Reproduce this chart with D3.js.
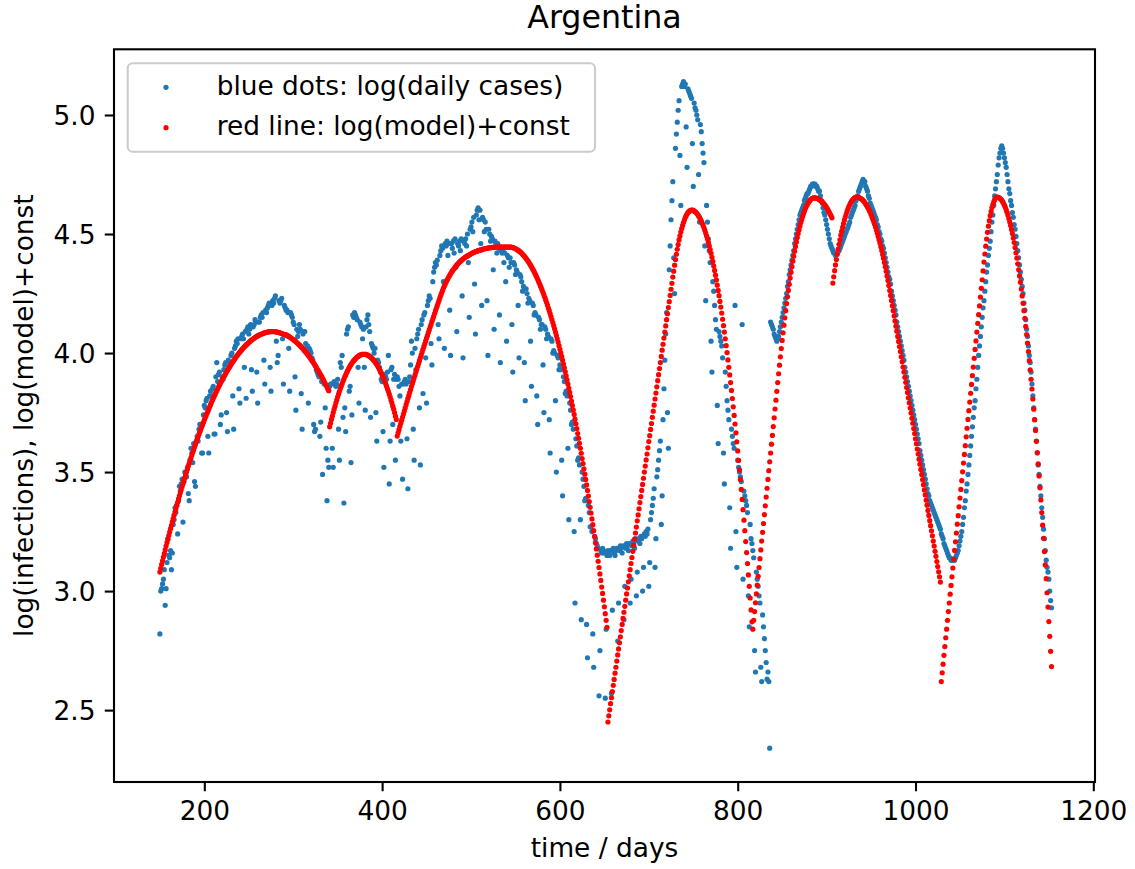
<!DOCTYPE html>
<html lang="en">
<head>
<meta charset="UTF-8">
<title>Argentina</title>
<script src="https://cdn.jsdelivr.net/npm/d3@7"></script>
<style>
  body { margin: 0; background: #fff; }
  svg { display: block; font-family: "DejaVu Sans", sans-serif; }
</style>
</head>
<body>
<svg id="chart" width="1135" height="869"></svg>
<script>
// one value per day, starting at firstDay
var firstDay = 150;

// blue dots: log(daily cases)
var logCases = [
  2.82,3.00,3.01,3.03,3.05,3.09,2.94,3.01,3.12,3.22, // 150
  3.15,3.14,3.17,3.09,3.16,3.28,3.30,3.35,3.33,3.36,
  3.24,3.38,3.44,3.42,3.45,3.47,3.29,3.46,3.50,3.49,
  3.48,3.52,3.41,3.38,3.55,3.60,3.58,3.54,3.62,3.46,
  3.44,3.63,3.65,3.63,3.68,3.70,3.70,3.58,3.58,3.74,
  3.78,3.77,3.80,3.81,3.65,3.58,3.82,3.84,3.82,3.85, // 200
  3.86,3.66,3.66,3.90,3.96,3.88,3.91,3.92,3.70,3.74,
  3.90,3.89,3.93,3.95,3.96,3.75,3.67,3.97,3.94,3.96,
  3.99,4.00,3.82,3.68,4.02,4.03,4.05,4.04,4.06,3.85,
  3.79,4.06,4.07,4.08,4.06,3.94,4.09,3.81,4.10,4.11,
  4.08,4.10,4.12,3.93,3.84,4.11,4.12,4.14,4.13,3.92, // 250
  3.79,4.13,4.13,4.15,4.16,4.15,4.17,3.97,3.87,4.18,
  4.17,4.19,4.20,4.21,3.94,3.84,4.20,4.22,4.21,4.23,
  4.24,4.05,3.96,3.99,4.22,4.21,4.22,4.23,4.06,3.87,
  4.20,4.19,4.18,4.18,4.17,4.02,3.84,4.17,4.16,4.15,
  4.13,4.12,3.90,3.76,4.10,4.07,4.09,4.12,4.10,3.83, // 300
  3.68,4.08,4.09,4.09,4.04,4.02,4.03,3.79,4.02,4.01,
  4.00,3.98,3.97,3.70,3.67,3.68,3.93,3.92,3.91,3.90,
  3.65,3.71,3.88,3.49,3.88,3.87,3.77,3.60,3.38,3.55,
  3.52,3.86,3.87,3.87,3.60,3.52,3.88,3.87,3.86,3.87,
  3.89,3.68,3.55,3.96,3.94,3.99,3.73,3.37,3.77,3.67, // 350
  4.08,4.10,4.11,3.84,3.86,3.54,3.74,4.16,4.15,4.17,
  4.16,4.15,4.14,3.94,3.79,4.13,4.12,4.11,4.06,4.10,
  3.94,3.76,4.11,4.14,4.16,4.12,4.09,3.73,4.04,4.03,
  4.02,4.00,4.02,3.75,3.63,3.97,3.96,3.94,3.92,3.89,
  3.88,3.67,3.52,3.91,3.90,3.89,3.92,3.99,3.45,3.63, // 400
  3.93,3.94,3.70,3.89,3.91,3.55,3.89,3.90,3.89,3.86,
  3.82,3.63,3.87,3.47,3.87,3.88,3.89,3.87,3.64,3.43,
  3.88,3.90,3.95,4.05,4.00,3.68,3.55,4.02,3.93,4.06,
  4.08,4.10,3.77,3.53,4.12,4.14,3.83,4.16,4.17,3.98,
  3.79,4.20,4.22,4.24,4.23,4.04,3.95,4.30,4.34,4.36, // 450
  4.38,4.37,4.39,4.12,4.06,4.41,
  4.43,4.45,4.44,4.30,4.02,4.46,4.45,4.47,4.41,4.46, // 466
  4.18,3.99,4.46,4.44,4.47,4.42,4.48,4.36,4.09,4.46,
  4.45,4.47,4.43,4.48,4.24,3.98,4.47,4.46,4.48,4.45,
  4.50,4.38,4.15,4.52,4.53,4.55,4.51,4.57,4.29,4.08,
  4.58,4.60,4.61,4.56,4.60,4.46,4.20,4.57,4.56,4.51, // 506
  4.55,4.52,4.22,3.99,4.52,4.50,4.47,4.49,4.48,4.35,
  4.10,4.47,4.46,4.42,4.46,4.44,4.16,3.96,4.43,4.42,
  4.43,4.38,4.42,4.30,4.05,4.41,4.40,4.36,4.40,4.38,
  4.12,3.92,4.38,4.37,4.33,4.35,4.34,4.20,3.98,4.33,
  4.32,4.30,4.26,4.28,3.96,3.80,4.27,4.25,4.21,4.23, // 556
  4.22,4.05,3.86,4.21,4.20,4.16,4.17,4.16,3.82,3.70,
  4.15,4.14,4.10,4.12,4.12,3.95,3.75,4.11,4.10,4.06,
  4.08,4.07,3.72,3.58,4.06,4.05,4.00,4.01,4.00,3.80,
  3.50,3.99,3.98,3.93,3.95,3.93,3.55,3.40,3.90,3.88,
  3.83,3.84,3.82,3.60,3.30,3.79,3.76,3.70,3.71,3.68, // 606
  3.25,2.95,3.64,3.61,3.55,3.56,3.53,3.30,2.88,3.50,
  3.47,3.44,3.38,3.39,2.86,2.72,3.36,3.33,3.27,3.27,
  3.25,2.82,2.68,3.23,3.22,3.20,3.19,3.18,2.56,2.75,
  3.17,3.16,3.18,3.17,3.16,2.55,2.84,3.15,3.17,3.16,
  3.15,3.17,2.57,2.92,3.18,3.16,3.15,3.17,3.18,2.79, // 656
  2.95,3.17,3.19,3.18,3.16,3.19,2.88,3.02,3.18,3.20,
  3.19,3.17,3.20,2.95,3.05,3.19,3.21,3.20,3.18,3.22,
  2.98,3.08,3.21,3.22,3.20,3.23,3.22,3.00,3.10,3.24,
  3.23,3.25,3.24,3.26,3.02,3.12,3.30,3.33,3.36,3.39,
  3.43,3.10,3.22,3.48,3.51,3.55,3.59,3.63,3.28,3.40, // 706
  3.72,3.85,3.97,4.08,4.17,3.75,3.60,4.35,4.45,4.56,
  4.64,4.72,4.40,4.25,4.86,4.92,4.97,5.02,5.06,4.83,
  4.62,5.12,5.13,5.14,5.12,5.13,4.95,4.78,5.11,5.10,
  5.09,5.08,5.07,4.88,4.70,5.05,5.03,5.02,5.00,4.98,
  4.75,4.55,4.96,4.93,4.88,4.84,4.80,4.45,4.22,4.62, // 756
  4.55,4.48,4.43,4.38,4.05,3.92,4.30,4.26,4.20,4.14,
  4.10,3.78,3.62,4.09,4.07,4.05,4.03,3.98,3.58,3.45,
  3.92,3.86,3.80,3.76,3.72,3.35,3.18,3.68,3.65,3.62,
  3.60,4.20,3.25,3.10,3.55,3.52,3.50,3.48,3.46,4.12,
  3.05,3.42,3.40,3.38,3.36,3.33,2.98,2.85,3.28,3.22, // 806
  3.20,3.17,3.14,2.75,2.66,3.08,3.05,3.02,2.98,2.95,
  2.68,2.62,2.90,2.85,2.80,2.75,2.70,2.63,2.66,2.62,
  2.34,4.13,4.12,4.11,4.10,4.08,4.07,4.06,4.05,4.06,
  4.07,4.09,4.11,4.13,4.15,4.17,4.19,4.21,4.23,4.25,
  4.28,4.30,4.33,4.35,4.37,4.39,4.41,4.43,4.46,4.48, // 856
  4.50,4.52,4.54,4.56,4.58,4.59,4.60,4.61,4.62,4.64,
  4.65,4.66,4.67,4.67,4.68,4.69,4.70,4.70,4.71,4.71,
  4.71,4.71,4.70,4.70,4.69,4.68,4.68,4.66,4.64,4.63,
  4.61,4.59,4.58,4.56,4.54,4.52,4.50,4.48,4.46,4.45,
  4.44,4.43,4.42,4.42,4.41,4.42,4.42,4.43,4.43,4.44, // 906
  4.45,4.46,4.47,4.48,4.49,4.50,4.51,4.52,4.53,4.54,
  4.55,4.57,4.58,4.59,4.60,4.61,4.62,4.64,4.65,4.66,
  4.68,4.69,4.70,4.71,4.72,4.73,4.72,4.72,4.70,4.69,
  4.68,4.66,4.65,4.63,4.62,4.61,4.60,4.59,4.58,4.57,
  4.56,4.54,4.53,4.51,4.50,4.48,4.47,4.45,4.44,4.42, // 956
  4.40,4.38,4.36,4.34,4.32,4.31,4.29,4.26,4.24,4.22,
  4.20,4.18,4.16,4.13,4.11,4.09,4.07,4.05,4.03,4.01,
  3.99,3.97,3.94,3.92,3.90,3.88,3.86,3.84,3.82,3.80,
  3.78,3.76,3.74,3.72,3.70,3.68,3.66,3.64,3.62,3.59,
  3.57,3.55,3.53,3.51,3.49,3.47,3.45,3.43,3.41,3.40, // 1006
  3.38,3.37,3.36,3.35,3.34,3.33,3.32,3.31,3.30,3.29,
  3.28,3.27,3.26,3.24,3.23,3.22,3.20,3.19,3.18,3.17,
  3.16,3.15,3.14,3.14,3.13,3.13,3.13,3.13,3.13,3.14,
  3.15,3.16,3.17,3.19,3.21,3.23,3.25,3.28,3.31,3.35,
  3.38,3.42,3.45,3.49,3.53,3.57,3.61,3.65,3.69,3.73, // 1056
  3.77,3.80,3.85,3.89,3.94,3.99,4.03,4.07,4.11,4.15,
  4.19,4.22,4.26,4.30,4.34,4.37,4.41,4.44,4.47,4.51,
  4.55,4.58,4.62,4.66,4.69,4.72,4.75,4.79,4.82,4.84,
  4.86,4.87,4.86,4.84,4.82,4.80,4.78,4.75,4.72,4.69,
  4.67,4.64,4.62,4.59,4.57,4.54,4.52,4.49,4.46,4.43, // 1106
  4.40,4.37,4.34,4.31,4.28,4.25,4.21,4.18,4.14,4.10,
  4.07,4.03,3.99,3.96,3.92,3.87,3.82,3.77,3.72,3.68,
  3.63,3.58,3.53,3.49,3.44,3.40,3.35,3.31,3.26,3.22,
  3.17,3.13,3.10,3.08,3.05,3.00,2.96,2.93
];

// red line: log(model)+const, one value per day
var logModel = [
  3.080,3.096,3.112,3.127,3.143,3.158,3.173,3.189,3.204,3.218, // 150
  3.233,3.248,3.262,3.276,3.291,3.305,3.319,3.333,3.346,3.360,
  3.373,3.387,3.400,3.413,3.426,3.439,3.451,3.464,3.476,3.489,
  3.501,3.513,3.525,3.537,3.549,3.560,3.572,3.583,3.594,3.605,
  3.616,3.627,3.638,3.648,3.659,3.669,3.679,3.689,3.699,3.709,
  3.719,3.728,3.738,3.747,3.756,3.765,3.774,3.783,3.792,3.801, // 200
  3.809,3.817,3.825,3.834,3.842,3.849,3.857,3.865,3.872,3.879,
  3.887,3.894,3.901,3.907,3.914,3.921,3.927,3.933,3.940,3.946,
  3.952,3.958,3.963,3.969,3.974,3.980,3.985,3.990,3.995,4.000,
  4.004,4.009,4.013,4.018,4.022,4.026,4.030,4.034,4.037,4.041,
  4.044,4.048,4.051,4.054,4.057,4.060,4.062,4.065,4.067,4.070, // 250
  4.072,4.074,4.076,4.078,4.079,4.081,4.082,4.084,4.085,4.086,
  4.087,4.088,4.089,4.089,4.090,4.090,4.090,4.090,4.090,4.090,
  4.089,4.089,4.088,4.087,4.086,4.085,4.084,4.082,4.081,4.079,
  4.079,4.078,4.076,4.074,4.072,4.070,4.067,4.065,4.062,4.060,
  4.057,4.054,4.051,4.048,4.044,4.041,4.037,4.034,4.030,4.026, // 300
  4.022,4.018,4.013,4.009,4.004,4.000,3.995,3.990,3.985,3.980,
  3.974,3.969,3.963,3.958,3.952,3.946,3.940,3.933,3.927,3.921,
  3.914,3.907,3.901,3.894,3.887,3.879,3.872,3.865,3.857,3.849,
  3.842,3.690,3.705,3.721,3.735,3.750,3.764,3.777,3.791,3.803,
  3.816,3.828,3.839,3.850,3.861,3.871,3.881,3.891,3.900,3.908, // 350
  3.917,3.925,3.932,3.939,3.946,3.952,3.957,3.963,3.968,3.972,
  3.976,3.980,3.983,3.986,3.989,3.991,3.992,3.994,3.995,3.995,
  3.995,3.995,3.994,3.992,3.991,3.989,3.986,3.983,3.980,3.976,
  3.972,3.968,3.963,3.957,3.952,3.946,3.939,3.932,3.925,3.917,
  3.908,3.900,3.891,3.881,3.871,3.861,3.850,3.839,3.828,3.816, // 400
  3.803,3.791,3.777,3.764,3.750,3.735,3.721,3.651,3.665,3.678,
  3.692,3.705,3.718,3.731,3.744,3.757,3.770,3.783,3.796,3.809,
  3.821,3.834,3.846,3.859,3.871,3.884,3.896,3.908,3.920,3.932,
  3.944,3.956,3.968,3.980,3.992,4.004,4.016,4.028,4.039,4.051,
  4.063,4.074,4.086,4.097,4.109,4.120,4.132,4.143,4.154,4.166, // 450
  4.177,4.188,4.199,4.210,4.221,4.232,
  4.243,4.253,4.263,4.273,4.282,4.290,4.298,4.306,4.313,4.320, // 466
  4.326,4.333,4.339,4.345,4.350,4.355,4.360,4.365,4.370,4.374,
  4.378,4.382,4.385,4.389,4.392,4.395,4.398,4.401,4.403,4.406,
  4.408,4.410,4.413,4.415,4.417,4.419,4.421,4.422,4.424,4.426,
  4.427,4.428,4.430,4.431,4.432,4.433,4.434,4.436,4.437,4.438, // 506
  4.439,4.440,4.440,4.441,4.442,4.442,4.443,4.443,4.444,4.444,
  4.444,4.445,4.445,4.445,4.445,4.445,4.445,4.445,4.445,4.445,
  4.445,4.445,4.445,4.445,4.445,4.445,4.445,4.445,4.445,4.445,
  4.444,4.443,4.442,4.440,4.439,4.437,4.434,4.432,4.429,4.426,
  4.423,4.419,4.415,4.411,4.407,4.402,4.397,4.392,4.387,4.381, // 556
  4.375,4.369,4.363,4.356,4.349,4.342,4.334,4.326,4.318,4.310,
  4.301,4.292,4.283,4.274,4.264,4.254,4.244,4.234,4.223,4.212,
  4.201,4.189,4.178,4.166,4.153,4.141,4.128,4.115,4.102,4.088,
  4.074,4.060,4.046,4.031,4.016,4.001,3.986,3.970,3.954,3.938,
  3.921,3.904,3.887,3.870,3.853,3.835,3.817,3.798,3.780,3.761, // 606
  3.742,3.722,3.703,3.683,3.662,3.642,3.621,3.600,3.579,3.557,
  3.536,3.514,3.491,3.469,3.446,3.423,3.399,3.376,3.352,3.328,
  3.303,3.279,3.254,3.229,3.203,3.177,3.151,3.125,3.099,3.072,
  3.045,3.017,2.990,2.962,2.934,2.905,2.877,2.848,
  2.450,2.476,2.501,2.527,2.552,2.578,2.604,2.629,2.655,2.680, // 654
  2.706,2.732,2.757,2.783,2.808,2.834,2.860,2.885,2.911,2.936,
  2.962,2.988,3.013,3.039,3.064,3.090,3.116,3.141,3.167,3.192,
  3.218,3.244,3.269,3.295,3.320,3.346,3.372,3.397,3.423,3.448,
  3.474,3.500,3.525,3.551,3.576,3.602,3.628,3.653,3.679,3.704,
  3.730,3.756,3.781,3.807,3.832,3.858,3.884,3.909,3.935,3.960, // 704
  3.986,4.012,4.037,4.063,4.088,4.114,4.140,4.165,4.191,4.216,
  4.242,4.268,4.293,4.319,4.344,4.369,4.393,4.415,4.436,4.456,
  4.475,4.492,4.508,4.523,4.536,4.548,4.559,4.569,4.577,4.584,
  4.590,4.594,4.597,4.599,4.600,4.600,4.599,4.597,4.594,4.591,
  4.587,4.582,4.576,4.570,4.563,4.555,4.546,4.537,4.527,4.516, // 754
  4.504,4.492,4.479,4.465,4.450,4.435,4.419,4.402,4.385,4.366,
  4.347,4.327,4.307,4.285,4.263,4.241,4.217,4.193,4.168,4.142,
  4.115,4.088,4.060,4.031,4.002,3.971,3.940,3.908,3.876,3.843,
  3.809,3.774,3.738,3.702,3.665,3.627,3.589,3.549,3.509,3.469,
  3.427,3.385,3.342,3.298,3.254,3.208,3.162,3.116,3.068,3.020, // 804
  2.971,2.921,2.871,
  2.840,2.877,2.914,2.951,2.988,3.025,3.062,3.099,3.136,3.173, // 817
  3.210,3.247,3.284,3.321,3.358,3.395,3.432,3.469,3.506,3.543,
  3.580,3.617,3.654,3.691,3.728,3.765,3.802,3.839,3.876,3.913,
  3.949,3.984,4.019,4.053,4.085,4.117,4.148,4.178,4.208,4.236,
  4.263,4.289,4.315,4.339,4.363,4.386,4.407,4.428,4.448,4.467,
  4.485,4.502,4.518,4.534,4.548,4.561,4.574,4.585,4.596,4.606, // 867
  4.615,4.622,4.629,4.635,4.640,4.645,4.648,4.650,4.652,4.652,
  4.652,4.651,4.650,4.649,4.647,4.644,4.642,4.639,4.635,4.631,
  4.627,4.622,4.617,4.611,4.605,4.598,4.591,4.584,4.576,4.568,
  4.294,4.320,4.346,4.370,4.393,4.415,4.437,4.457,4.476,4.495, // 907
  4.512,4.528,4.544,4.558,4.571,4.584,4.595,4.605,4.615,4.623,
  4.631,4.637,4.643,4.647,4.651,4.653,4.655,4.655,4.655,4.654,
  4.652,4.650,4.648,4.645,4.641,4.637,4.632,4.626,4.620,4.614,
  4.607,4.599,4.591,4.582,4.572,4.562,4.552,4.541,4.529,4.517,
  4.504,4.490,4.476,4.462,4.447,4.431,4.414,4.398,4.380,4.362, // 957
  4.344,4.324,4.305,4.284,4.263,4.242,4.221,4.199,4.178,4.156,
  4.135,4.113,4.092,4.070,4.049,4.027,4.006,3.984,3.963,3.941,
  3.920,3.898,3.877,3.855,3.834,3.812,3.791,3.769,3.748,3.726,
  3.705,3.683,3.662,3.640,3.619,3.597,3.576,3.554,3.533,3.511,
  3.490,3.468,3.447,3.425,3.404,3.382,3.361,3.339,3.318,3.296, // 1007
  3.275,3.253,3.232,3.210,3.189,3.167,3.146,3.124,3.103,3.081,
  3.060,3.038,
  2.620,2.657,2.693,2.730,2.767,2.804,2.840,2.877,2.914,2.950, // 1029
  2.987,3.024,3.060,3.097,3.134,3.171,3.207,3.244,3.281,3.317,
  3.354,3.391,3.427,3.464,3.501,3.538,3.574,3.611,3.648,3.684,
  3.721,3.758,3.794,3.831,3.868,3.905,3.941,3.978,4.015,4.051,
  4.088,4.125,4.161,4.198,4.235,4.272,4.308,4.345,4.382,4.416,
  4.449,4.479,4.507,4.533,4.556,4.577,4.595,4.611,4.624,4.635, // 1079
  4.644,4.650,4.654,4.655,4.654,4.653,4.650,4.647,4.642,4.636,
  4.629,4.621,4.612,4.602,4.591,4.579,4.565,4.551,4.536,4.519,
  4.502,4.483,4.464,4.443,4.421,4.399,4.375,4.350,4.324,4.297,
  4.269,4.240,4.209,4.178,4.146,4.112,4.078,4.042,4.006,3.968,
  3.929,3.890,3.849,3.807,3.764,3.720,3.675,3.629,3.582,3.534, // 1129
  3.484,3.434,3.383,3.330,3.277,3.222,3.166,3.110,3.052,2.993,
  2.933,2.872,2.810,2.747,2.683
];

var xTicks = [200, 400, 600, 800, 1000, 1200];
var yTicks = [2.5, 3.0, 3.5, 4.0, 4.5, 5.0];
var legendLabels = ["blue dots: log(daily cases)", "red line: log(model)+const"];
var legendColors = ["#1f77b4", "#ff0000"];

var box = { left: 114, right: 1095, top: 49.3, bottom: 782 };
var lw = 2.1;      // 0.8pt
var fs = 26.4;     // 10pt
var dotR = 2.6;

var svg = d3.select("#chart");
svg.append("rect").attr("width", 1135).attr("height", 869).attr("fill", "#fff");

var x = d3.scaleLinear().domain([98.4, 1201.9]).range([box.left, box.right]);
var y = d3.scaleLinear().domain([2.198, 5.276]).range([box.bottom, box.top]);

var cases = logCases.map(function(v, i) { return { day: firstDay + i, v: v }; });
var model = logModel.map(function(v, i) { return { day: firstDay + i, v: v }; });

svg.append("g").selectAll("circle").data(cases).enter().append("circle")
  .attr("cx", function(d) { return x(d.day); })
  .attr("cy", function(d) { return y(d.v); })
  .attr("r", dotR)
  .attr("fill", "#1f77b4");

svg.append("g").selectAll("circle").data(model).enter().append("circle")
  .attr("cx", function(d) { return x(d.day); })
  .attr("cy", function(d) { return y(d.v); })
  .attr("r", dotR)
  .attr("fill", "#ff0000");

// axes
var gx = svg.append("g").attr("transform", "translate(0," + box.bottom + ")")
  .call(d3.axisBottom(x).tickValues(xTicks).tickSize(9.24).tickPadding(9.8).tickFormat(d3.format("d")));
var gy = svg.append("g").attr("transform", "translate(" + box.left + ",0)")
  .call(d3.axisLeft(y).tickValues(yTicks).tickSize(9.24).tickPadding(9.24).tickFormat(d3.format(".1f")));

[gx, gy].forEach(function(g) {
  g.select(".domain").remove();
  g.attr("font-family", null).attr("font-size", null);
  g.selectAll(".tick line").attr("stroke", "#000").attr("stroke-width", lw);
  g.selectAll(".tick text").attr("fill", "#000").style("font-size", fs + "px");
});
gy.selectAll(".tick text").attr("dy", "0.36em");

// frame
svg.append("rect")
  .attr("x", box.left).attr("y", box.top)
  .attr("width", box.right - box.left).attr("height", box.bottom - box.top)
  .attr("fill", "none").attr("stroke", "#000").attr("stroke-width", lw);

// labels
svg.append("text").attr("x", 604.5).attr("y", 28).attr("text-anchor", "middle")
  .style("font-size", "31.7px").text("Argentina");
svg.append("text").attr("x", 604.5).attr("y", 857).attr("text-anchor", "middle")
  .style("font-size", fs + "px").text("time / days");
svg.append("text").attr("transform", "translate(33," + (box.top + box.bottom) / 2 + ") rotate(-90)")
  .attr("text-anchor", "middle").style("font-size", fs + "px")
  .text("log(infections), log(model)+const");

// legend
var lg = svg.append("g");
lg.append("rect").attr("x", 127.7).attr("y", 63.3).attr("width", 467.3).attr("height", 88.4)
  .attr("rx", 5).attr("fill", "#fff").attr("fill-opacity", 0.8)
  .attr("stroke", "#cccccc").attr("stroke-width", lw);
var rows = lg.selectAll("g.row").data(legendLabels).enter().append("g")
  .attr("transform", function(d, i) { return "translate(0," + (87.3 + i * 40.4) + ")"; });
rows.append("circle").attr("cx", 166).attr("cy", 0).attr("r", dotR)
  .attr("fill", function(d, i) { return legendColors[i]; });
rows.append("text").attr("x", 216.7).attr("y", 7.7).style("font-size", fs + "px")
  .text(function(d) { return d; });
</script>
</body>
</html>
